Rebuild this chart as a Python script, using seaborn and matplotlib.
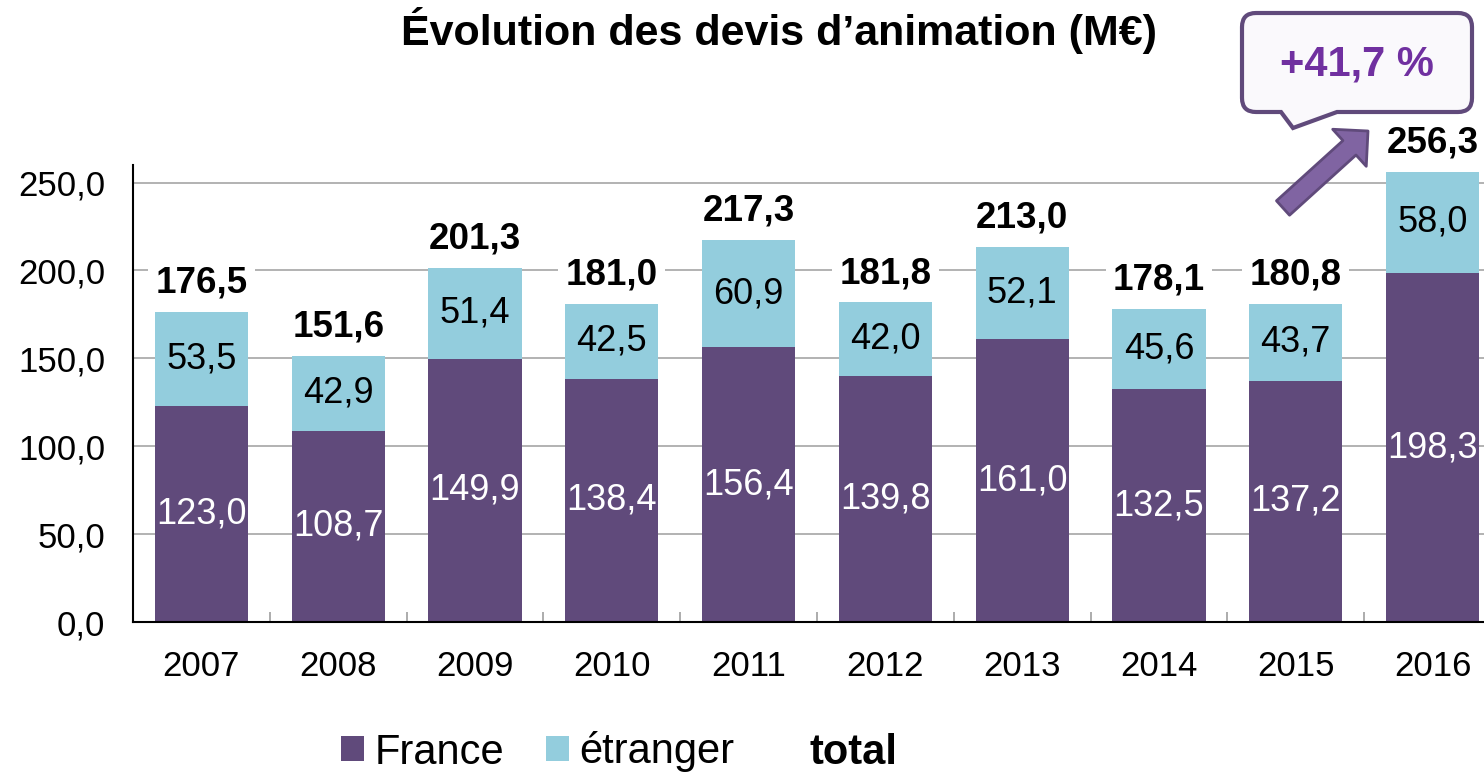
import numpy as np
import pandas as pd
import seaborn as sns
import matplotlib.pyplot as plt
from matplotlib.patches import Patch, PathPatch, FancyArrowPatch
from matplotlib.path import Path

# data
years = ['2007', '2008', '2009', '2010', '2011', '2012', '2013', '2014', '2015', '2016']
france = [123.0, 108.7, 149.9, 138.4, 156.4, 139.8, 161.0, 132.5, 137.2, 198.3]
etranger = [53.5, 42.9, 51.4, 42.5, 60.9, 42.0, 52.1, 45.6, 43.7, 58.0]
totals = [176.5, 151.6, 201.3, 181.0, 217.3, 181.8, 213.0, 178.1, 180.8, 256.3]
growth_label = '+41,7 %'
title = 'Évolution des devis d\u2019animation (M€)'

PURPLE = '#604A7B'
BLUE = '#93CDDD'
W, H = 1484, 774

sns.set_style('white')
plt.rcParams['font.family'] = ['Liberation Sans', 'DejaVu Sans']
plt.rcParams['text.color'] = 'black'
plt.rcParams['xtick.labelcolor'] = 'black'
plt.rcParams['ytick.labelcolor'] = 'black'


def fr(v):
    return f'{v:.1f}'.replace('.', ',')


def px(x, y):
    # pixel position (from top-left) -> figure fraction
    return (x / W, 1 - y / H)


df = pd.DataFrame({'year': years, 'france': france, 'etranger': etranger})
df['stack'] = df['france'] + df['etranger']

fig = plt.figure(figsize=(W / 100, H / 100), dpi=100)
ax = fig.add_axes([133 / W, 152 / H, 1368 / W, 457 / H])

sns.barplot(data=df, x='year', y='stack', color=BLUE, width=0.68,
            saturation=1, ax=ax, edgecolor='none')
sns.barplot(data=df, x='year', y='france', color=PURPLE, width=0.68,
            saturation=1, ax=ax, edgecolor='none')

purple_bars = ax.containers[1]
for bar, f, e, t in zip(purple_bars, france, etranger, totals):
    xc = bar.get_x() + bar.get_width() / 2
    ax.text(xc, f / 2, fr(f), ha='center', va='center', color='white', fontsize=26)
    ax.text(xc, f + e / 2, fr(e), ha='center', va='center', color='black', fontsize=26)
    ax.annotate(fr(t), (xc, f + e), xytext=(0, 14), textcoords='offset points',
                ha='center', va='baseline', fontsize=26.5, fontweight='bold',
                annotation_clip=False, color='black',
                bbox=dict(boxstyle='square,pad=0.2', fc='white', ec='none'))

ax.set_xlim(-0.5, 9.5)
ax.set_ylim(0, 260)
ax.set_yticks(np.arange(0, 251, 50))
ax.set_yticklabels([fr(v) for v in np.arange(0, 251, 50)])
ax.set_xticks(np.arange(0.5, 9.5, 1), minor=True)
ax.tick_params(axis='both', which='major', length=0, labelsize=25)
ax.tick_params(axis='x', which='major', pad=20)
ax.tick_params(axis='y', which='major', pad=20)
ax.tick_params(axis='x', which='minor', direction='in', length=7,
               color='#A6A6A6', width=1.3, bottom=True)
ax.set_xlabel('')
ax.set_ylabel('')
ax.yaxis.grid(True, color='#A6A6A6', lw=1.2)
ax.set_axisbelow(True)
for s in ['top', 'right']:
    ax.spines[s].set_visible(False)
for s in ['left', 'bottom']:
    ax.spines[s].set_color('black')
    ax.spines[s].set_linewidth(1.5)

fig.text(*px(779, 30), title, ha='center', va='center', fontsize=31,
         fontweight='bold')

# callout bubble
x0, y0, x1, y1, r = 1242, 13, 1472, 112, 14
pts = [(x0 + r, y0), (x1 - r, y0), (x1, y0), (x1, y0 + r), (x1, y1 - r),
       (x1, y1), (x1 - r, y1), (1337, y1), (1293, 128), (1281, y1),
       (x0 + r, y1), (x0, y1), (x0, y1 - r), (x0, y0 + r), (x0, y0),
       (x0 + r, y0), (x0 + r, y0)]
codes = [Path.MOVETO, Path.LINETO, Path.CURVE3, Path.CURVE3, Path.LINETO,
         Path.CURVE3, Path.CURVE3, Path.LINETO, Path.LINETO, Path.LINETO,
         Path.LINETO, Path.CURVE3, Path.CURVE3, Path.LINETO, Path.CURVE3,
         Path.CURVE3, Path.CLOSEPOLY]
bubble = PathPatch(Path([px(*p) for p in pts], codes), transform=fig.transFigure,
                   fc='#FAF9FC', ec=PURPLE, lw=3, clip_on=False)
fig.add_artist(bubble)
fig.text(*px(1357, 65), growth_label, ha='center', va='center', fontsize=30,
         fontweight='bold', color='#7030A0')

arrow = FancyArrowPatch(px(1283, 208), px(1368, 131), transform=fig.transFigure,
                        arrowstyle='simple,head_length=18,head_width=36,tail_width=14',
                        mutation_scale=1, shrinkA=0, shrinkB=0,
                        fc='#8064A2', ec=PURPLE, lw=2)
fig.add_artist(arrow)

handles = [Patch(fc=PURPLE, ec='none'), Patch(fc=BLUE, ec='none'),
           Patch(fc='none', ec='none')]
leg = fig.legend(handles, ['France', 'étranger', 'total'], loc='center',
                 bbox_to_anchor=(619 / W, 22 / H), ncol=3, frameon=False,
                 fontsize=30, handlelength=0.55, handleheight=0.55,
                 handletextpad=0.25, columnspacing=1.0)
leg.get_texts()[2].set_fontweight('bold')

fig.savefig('out.png', dpi=100)
